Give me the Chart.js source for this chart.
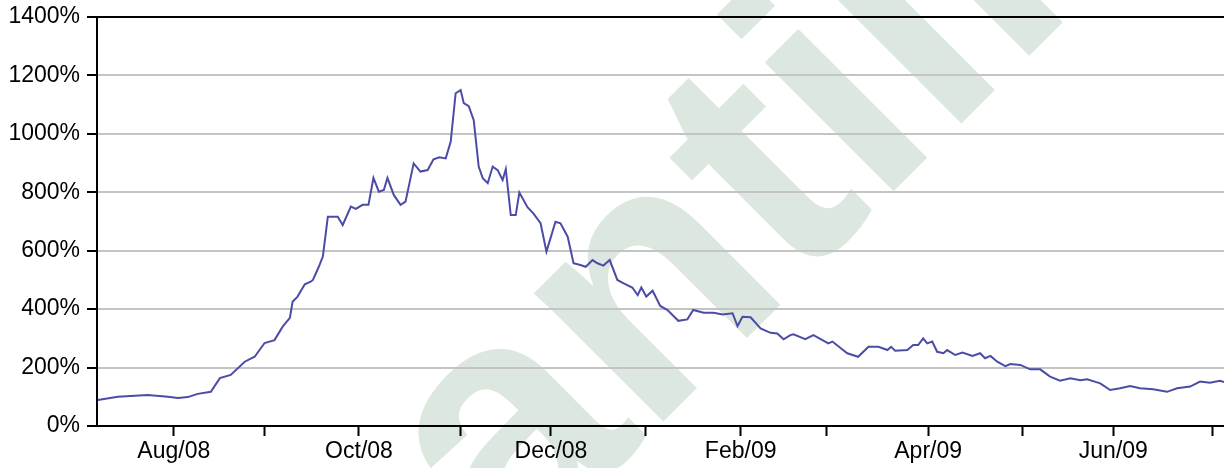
<!DOCTYPE html>
<html>
<head>
<meta charset="utf-8">
<script src="https://cdn.jsdelivr.net/npm/chart.js@4.4.0/dist/chart.umd.min.js"></script>
<style>
  html, body { margin: 0; padding: 0; background: #fff; }
  #wrap { width: 1224px; height: 468px; }
</style>
</head>
<body>
<div id="wrap"><canvas id="volChart" width="1224" height="468"></canvas></div>
<script>
// x = trading days counted from 1 Aug 2008 (day 0), y = percent
const days = [
  -16.8, -12.4, -5.8, -1.3, 0.9, 3.1, 5.3, 8.2, 10.2, 12.6, 15.7, 17.9, 20.1, 22.3, 24.1, 25.7,
  26.3, 27.4, 29.0, 30.3, 30.8, 32.1, 33.0, 34.1, 36.3, 37.4, 39.2, 40.3, 41.8, 43.1, 44.2, 45.4,
  46.5, 47.3, 48.7, 50.2, 51.3, 53.1, 54.6, 56.2, 57.5, 58.8, 60.2, 61.3, 62.4, 63.5, 64.2, 65.3,
  66.4, 67.5, 68.4, 69.5, 70.6, 71.7, 72.8, 73.5, 74.6, 75.7, 76.5, 78.3, 79.6, 81.2, 82.5, 84.5,
  85.6, 87.2, 88.5, 90.0, 91.2, 92.7, 93.8, 95.1, 96.5, 98.2, 99.6, 101.5, 102.7, 103.5, 104.6, 106.0,
  107.7, 109.3, 111.7, 113.7, 115.0, 117.3, 119.5, 121.5, 123.7, 124.8, 125.9, 127.7, 129.9, 132.1, 133.6, 135.0,
  136.5, 137.2, 139.8, 141.6, 144.9, 145.8, 149.1, 151.5, 153.8, 156.0, 158.0, 158.8, 159.7, 162.4, 163.7, 164.8,
  165.9, 166.8, 167.9, 169.0, 170.4, 171.2, 173.0, 174.6, 176.8, 178.5, 179.6, 180.8, 182.3, 184.1, 185.2, 187.4,
  189.6, 191.8, 194.0, 196.2, 198.5, 200.7, 202.2, 205.1, 207.3, 209.5, 211.7, 213.9, 216.8, 219.9, 222.1, 225.0,
  227.2, 229.4, 231.6, 232.5
]
const volatility = [
  89, 100, 106, 100, 96, 99, 110, 117, 164, 175, 220, 237, 284, 294, 340, 370,
  425, 443, 485, 494, 500, 545, 580, 716, 716, 688, 751, 743, 757, 757, 849, 802,
  808, 849, 791, 757, 768, 899, 871, 876, 913, 920, 916, 973, 1139, 1150, 1105, 1095,
  1047, 888, 848, 831, 888, 876, 842, 879, 722, 722, 799, 749, 728, 694, 597, 699,
  694, 648, 557, 551, 545, 568, 557, 549, 568, 500, 488, 474, 448, 474, 443, 463,
  411, 397, 360, 365, 397, 388, 388, 382, 386, 342, 374, 372, 334, 319, 317, 297,
  311, 314, 297, 311, 283, 289, 249, 237, 271, 271, 260, 271, 258, 260, 277, 277,
  300, 283, 289, 254, 249, 260, 243, 251, 240, 249, 232, 240, 220, 205, 212, 209,
  194, 194, 169, 155, 163, 157, 160, 146, 123, 129, 137, 129, 126, 117, 129, 135,
  152, 148, 155, 150
]

const monthTickDays = [0, 20, 41, 63.5, 83.5, 104.5, 125.5, 144.5, 167, 188, 208, 230]
const monthTickLabels = ['Aug/08', '', 'Oct/08', '', 'Dec/08', '', 'Feb/09', '', 'Apr/09', '', 'Jun/09', '']
const yTickValues = [0, 200, 400, 600, 800, 1000, 1200, 1400]

const labelFont = { family: '"Liberation Sans", Arial, sans-serif', size: 23 }

// light green logo behind the plot
const watermark = {
    id: 'watermark',
    beforeDraw(chart) {
        const c = chart.ctx
        c.save()
        c.fillStyle = '#ffffff'
        c.fillRect(0, 0, chart.width, chart.height)
        c.translate(1080, 5)
        c.rotate(-Math.PI / 4)
        c.fillStyle = '#dce7df'
        c.font = 'bold 345px "Liberation Sans", Arial, sans-serif'
        c.textAlign = 'right'
        c.textBaseline = 'alphabetic'
        c.fillText('antill', 0, 0)
        c.restore()
    }
}

new Chart(document.getElementById('volChart'), {
    type: 'line',
    data: {
        datasets: [{
            data: days.map((d, i) => ({ x: d, y: volatility[i] })),
            borderColor: '#4b4ba8',
            borderWidth: 2,
            pointRadius: 0,
            tension: 0,
            fill: false
        }]
    },
    options: {
        responsive: false,
        animation: false,
        layout: { padding: { top: 17, right: 0, bottom: 0, left: 0 } },
        plugins: {
            legend: { display: false },
            tooltip: { enabled: false }
        },
        scales: {
            x: {
                type: 'linear',
                min: -17,
                max: 232.5,
                afterBuildTicks: (scale) => { scale.ticks = monthTickDays.map(v => ({ value: v })) },
                afterFit: (scale) => {
                    scale.height = 42
                    scale.paddingLeft = 0
                    scale.paddingRight = 0
                },
                ticks: {
                    autoSkip: false,
                    maxRotation: 0,
                    padding: 2,
                    color: '#000',
                    font: labelFont,
                    callback: (value, index) => monthTickLabels[index]
                },
                grid: {
                    drawOnChartArea: false,
                    drawTicks: true,
                    tickLength: 10,
                    tickColor: '#000',
                    tickWidth: 2
                },
                border: { display: true, color: '#000', width: 2 }
            },
            y: {
                min: 0,
                max: 1400,
                afterBuildTicks: (scale) => { scale.ticks = yTickValues.map(v => ({ value: v })) },
                afterFit: (scale) => {
                    scale.width = 97
                    scale.paddingTop = 0
                    scale.paddingBottom = 0
                },
                ticks: {
                    padding: 7,
                    color: '#000',
                    font: labelFont,
                    callback: (v) => v + '%'
                },
                grid: {
                    color: (ctx) => ctx.tick && ctx.tick.value === 1400 ? '#000' : '#c4c4c4',
                    lineWidth: 2,
                    tickLength: 10,
                    tickColor: '#000',
                    tickWidth: 2
                },
                border: { display: true, color: '#000', width: 2 }
            }
        }
    },
    plugins: [watermark]
})
</script>
</body>
</html>
